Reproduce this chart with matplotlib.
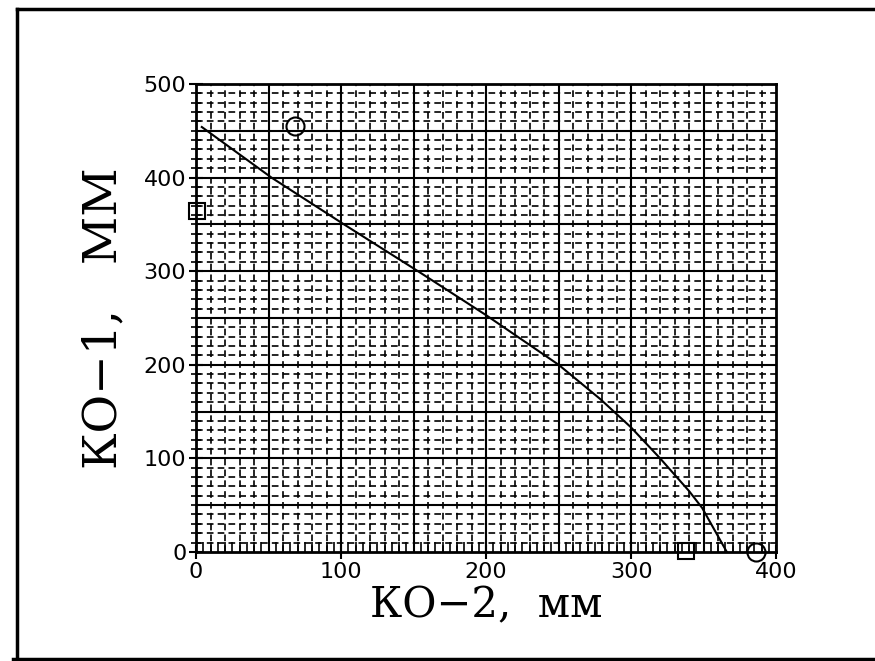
import numpy as np
import matplotlib
matplotlib.use("Agg")
import matplotlib.pyplot as plt
from matplotlib.ticker import MultipleLocator
from matplotlib.lines import Line2D

# curve
curve_x = [4, 52, 102, 153, 200, 250, 279, 300, 320, 340, 349, 366]
curve_y = [454, 400, 350, 300, 253, 200, 163, 133, 100, 65, 47, 0]

# measured points
circle_x = [68, 386]
circle_y = [455, 0]
square_x = [1, 338]
square_y = [364, 1]

xlabel = "КО−2,  мм"
ylabel = "КО−1,   ММ"

fig = plt.figure(figsize=(8.75, 6.61), dpi=100)
ax = fig.add_axes([0.224, 0.165, 0.663, 0.708])

ax.set_xlim(0, 400)
ax.set_ylim(0, 500)

# grid: dashed every 10, solid every 50
for v in np.arange(10, 400, 10):
    if v % 50:
        ax.axvline(v, color="black", lw=1.2, ls=(0, (4, 2.5)), zorder=1)
    else:
        ax.axvline(v, color="black", lw=1.5, zorder=1)
for v in np.arange(10, 500, 10):
    if v % 50:
        ax.axhline(v, color="black", lw=1.2, ls=(0, (4, 2.5)), zorder=1)
    else:
        ax.axhline(v, color="black", lw=1.5, zorder=1)

ax.plot(curve_x, curve_y, color="black", lw=1.5, zorder=3)
ax.plot(circle_x, circle_y, "o", ms=13, mfc="none", mec="black", mew=1.5,
        clip_on=False, zorder=4)
ax.plot(square_x, square_y, "s", ms=11, mfc="none", mec="black", mew=1.5,
        clip_on=False, zorder=4)

ax.xaxis.set_major_locator(MultipleLocator(100))
ax.xaxis.set_minor_locator(MultipleLocator(5))
ax.yaxis.set_major_locator(MultipleLocator(100))
ax.yaxis.set_minor_locator(MultipleLocator(10))
ax.tick_params(axis="x", which="major", direction="inout", length=10, width=1.5,
               labelsize=16, pad=2)
ax.tick_params(axis="x", which="minor", direction="in", length=7, width=1.2)
ax.tick_params(axis="y", which="major", direction="inout", length=10, width=1.5,
               labelsize=16, pad=2)
ax.tick_params(axis="y", which="minor", direction="inout", length=7, width=1.2)
for s in ax.spines.values():
    s.set_linewidth(2)

ax.set_xlabel(xlabel, family="DejaVu Serif", fontsize=30, labelpad=2)
ax.set_ylabel(ylabel, family="DejaVu Serif", fontsize=34, labelpad=12)

# scanned page frame
fig.add_artist(Line2D([0.019, 0.019], [0.003, 0.986], color="black", lw=2.5))
fig.add_artist(Line2D([0.019, 1.0], [0.986, 0.986], color="black", lw=2.5))
fig.add_artist(Line2D([0.015, 1.0], [0.003, 0.003], color="black", lw=2.5))

fig.savefig("out.png", dpi=100)
